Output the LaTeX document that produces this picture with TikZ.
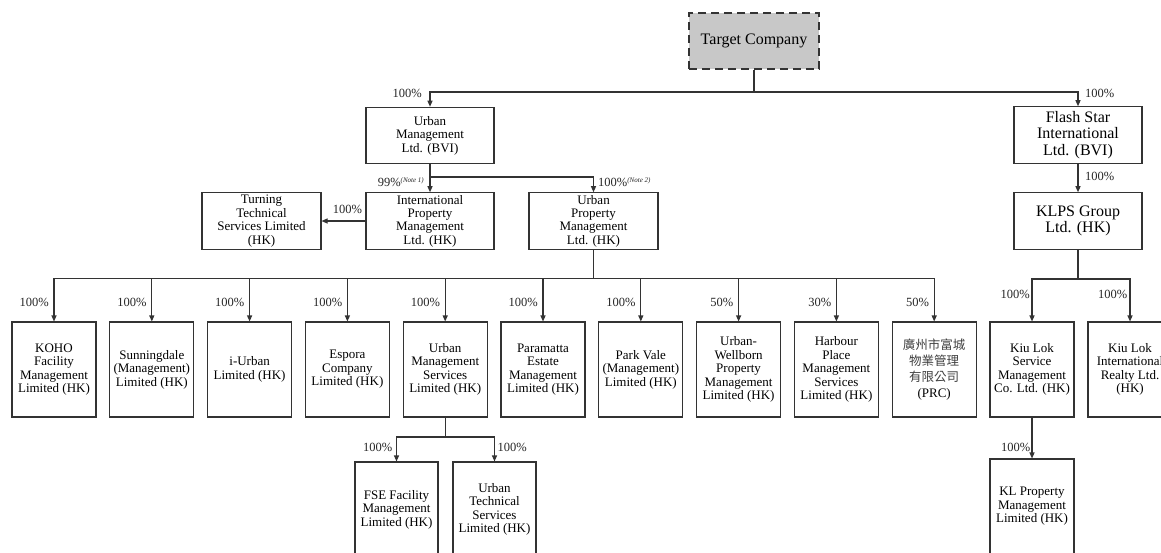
\documentclass[tikz,border=0pt]{standalone}
\usepackage{fontspec}
\setmainfont{Liberation Serif}
\newfontfamily\cjkfont{Noto Sans CJK TC}
\usetikzlibrary{arrows.meta}
\definecolor{ln}{HTML}{333333}
\definecolor{tgfill}{HTML}{C8C8C8}
\tikzset{
  cbox/.style={draw=ln, line width=1.1pt, inner sep=0pt, align=center, text=black,
    font=\fontsize{13}{13.4}\selectfont},
  smallbox/.style={cbox, minimum width=84pt, minimum height=95pt},
  midbox/.style={cbox, minimum width=128pt, minimum height=56.5pt},
  bigtext/.style={font=\fontsize{16}{16.7}\selectfont},
  conn/.style={draw=ln, line width=1.1pt},
  arr/.style={conn, -{Triangle[length=6pt,width=5pt]}},
  pct/.style={inner sep=0pt, font=\fontsize{12.5}{13}\selectfont, text=black!85}
}
\newcommand{\notetxt}[1]{\raisebox{0.55ex}{\fontsize{7}{8}\selectfont\itshape (#1)}}
\newcommand{\cj}[1]{{\cjkfont\fontsize{12.5}{16}\selectfont\color{black!75}#1}}
\begin{document}
\begin{tikzpicture}[x=1pt,y=-1pt]
\clip (0,0) rectangle (1161,552);
\fill[white] (0,0) rectangle (1161,552);

% top
\node[cbox, bigtext, fill=tgfill, dash pattern=on 8pt off 5pt, line width=1.3pt,
      minimum width=130pt, minimum height=56pt] (target) at (754,41) {Target Company};
\node[midbox] (umbvi) at (430,135.5) {Urban\\Management\\Ltd. (BVI)};
\node[midbox, bigtext] (flash) at (1078,135) {Flash Star\\International\\Ltd. (BVI)};
\node[midbox, bigtext] (klps) at (1078,221) {KLPS Group\\Ltd. (HK)};

% second level
\node[midbox] (ipm) at (430,221) {International\\Property\\Management\\Ltd. (HK)};
\node[midbox, minimum width=129pt] (upm) at (593.5,221) {Urban\\Property\\Management\\Ltd. (HK)};
\node[midbox, minimum width=119pt] (turn) at (261.5,221) {Turning\\Technical\\Services Limited\\(HK)};

% bottom row
\node[smallbox] (koho) at (54,369.5) {KOHO\\Facility\\Management\\Limited (HK)};
\node[smallbox] (sunn) at (151.8,369.5) {Sunningdale\\(Management)\\Limited (HK)};
\node[smallbox] (iurb) at (249.6,369.5) {i-Urban\\Limited (HK)};
\node[smallbox] (espo) at (347.4,369.5) {Espora\\Company\\Limited (HK)};
\node[smallbox] (ums) at (445.2,369.5) {Urban\\Management\\Services\\Limited (HK)};
\node[smallbox] (para) at (543,369.5) {Paramatta\\Estate\\Management\\Limited (HK)};
\node[smallbox] (park) at (640.8,369.5) {Park Vale\\(Management)\\Limited (HK)};
\node[smallbox] (uwel) at (738.6,369.5) {Urban-\\Wellborn\\Property\\Management\\Limited (HK)};
\node[smallbox] (harb) at (836.4,369.5) {Harbour\\Place\\Management\\Services\\Limited (HK)};
\node[smallbox, font=\fontsize{13}{16}\selectfont] (prc) at (934.2,369.5) {\cj{廣州市富城}\\\cj{物業管理}\\\cj{有限公司}\\(PRC)};
\node[smallbox] (kls) at (1032,369.5) {Kiu Lok\\Service\\Management\\Co. Ltd. (HK)};
\node[smallbox] (kli) at (1130,369.5) {Kiu Lok\\International\\Realty Ltd.\\(HK)};

% lowest row
\node[smallbox, minimum width=83pt] (fse) at (396.5,509.5) {FSE Facility\\Management\\Limited (HK)};
\node[smallbox, minimum width=83pt] (utech) at (494.5,509.5) {Urban\\Technical\\Services\\Limited (HK)};
\node[smallbox] (klp) at (1032,506.5) {KL Property\\Management\\Limited (HK)};

% junctions
\coordinate (tj) at (754,92);
\coordinate (bj) at (430,177);
\coordinate (bus) at (593.5,278.5);
\coordinate (kj) at (1078,279);
\coordinate (uj) at (445.2,437);

% connectors
\draw[conn] (target.south) -- (tj);
\draw[arr] (tj) -| (umbvi.north);
\draw[arr] (tj) -| (flash.north);
\draw[arr] (flash.south) -- (klps.north);
\draw[conn] (umbvi.south) -- (bj);
\draw[arr] (bj) -- (ipm.north);
\draw[arr] (bj) -| (upm.north);
\draw[arr] (ipm.west) -- (turn.east);
\draw[conn] (upm.south) -- (bus);
\foreach \n in {koho,sunn,iurb,espo,ums,para,park,uwel,harb,prc}
  \draw[arr] (bus) -| (\n.north);
\draw[conn] (klps.south) -- (kj);
\draw[arr] (kj) -| (kls.north);
\draw[arr] (kj) -| (kli.north);
\draw[arr] (kls.south) -- (klp.north);
\draw[conn] (ums.south) -- (uj);
\draw[arr] (uj) -| (fse.north);
\draw[arr] (uj) -| (utech.north);

% percentage labels
\node[pct, anchor=east] (l1) at (422,93.5) {100\%};
\node[pct, anchor=west] (l2) at (1085,93.5) {100\%};
\node[pct, anchor=west] (l3) at (1085,176) {100\%};
\node[pct, anchor=east] (l4) at (424,182) {99\%\notetxt{Note 1}};
\node[pct, anchor=west] (l5) at (598,182) {100\%\notetxt{Note 2}};
\node[pct] (l6) at (347.5,209) {100\%};
\node[pct, anchor=east] at (49,302) {100\%};
\node[pct, anchor=east] at (146.8,302) {100\%};
\node[pct, anchor=east] at (244.6,302) {100\%};
\node[pct, anchor=east] at (342.4,302) {100\%};
\node[pct, anchor=east] at (440.2,302) {100\%};
\node[pct, anchor=east] at (538,302) {100\%};
\node[pct, anchor=east] at (635.8,302) {100\%};
\node[pct, anchor=east] at (733.6,302) {50\%};
\node[pct, anchor=east] at (831.4,302) {30\%};
\node[pct, anchor=east] at (929.2,302) {50\%};
\node[pct, anchor=east] at (1030,294) {100\%};
\node[pct, anchor=east] at (1127.5,294) {100\%};
\node[pct, anchor=east] at (1030.5,447) {100\%};
\node[pct, anchor=east] at (392.5,447) {100\%};
\node[pct, anchor=west] at (497.5,447) {100\%};
\end{tikzpicture}
\end{document}
